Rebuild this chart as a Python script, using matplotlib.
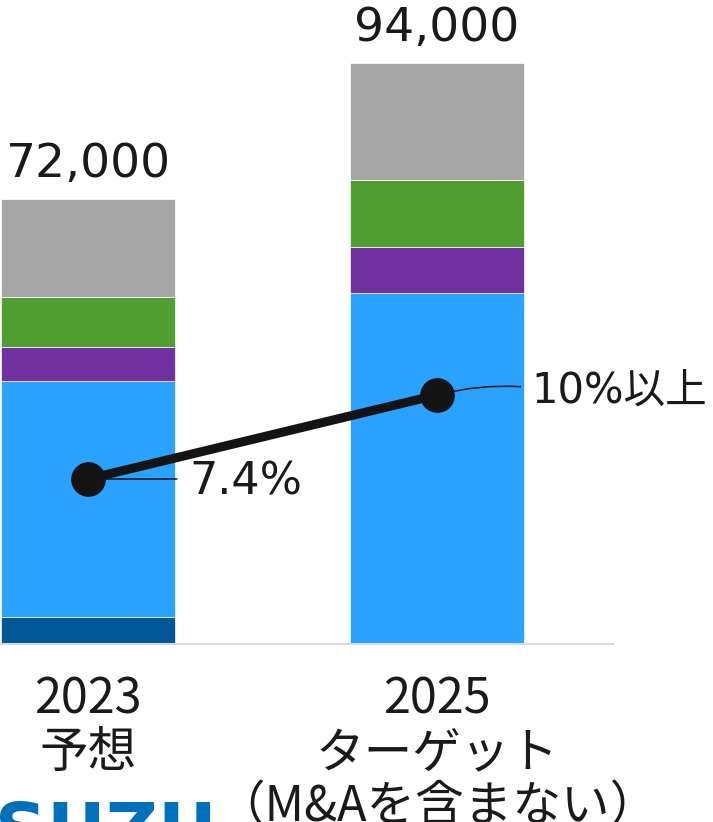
import numpy as np
import matplotlib
matplotlib.use('Agg')
from matplotlib import pyplot as plt

plt.rcParams['font.family'] = ['DejaVu Sans', 'Noto Sans CJK JP']

# data
categories = ['2023\n予想', '2025\nターゲット\n（M&Aを含まない）']
seg_dark = [4400, 0]
seg_blue = [38200, 56800]
seg_purple = [5500, 7400]
seg_green = [8000, 10800]
seg_gray = [15900, 19000]
totals = ['72,000', '94,000']
margin = [7.4, 10.0]
margin_labels = ['7.4%', '10%以上']

colors = ['#005696', '#29A3FF', '#7030A0', '#509E2F', '#A6A6A6']

fig = plt.figure(figsize=(7.13, 8.22), dpi=100)
ax = fig.add_axes([0, 178 / 822, 613 / 713, 644 / 822])
x = np.arange(len(categories))

bottom = np.zeros(len(categories))
for seg, c in zip([seg_dark, seg_blue, seg_purple, seg_green, seg_gray], colors):
    ax.bar(x, seg, 0.5, bottom=bottom, color=c, edgecolor='white', linewidth=0.5)
    bottom += np.array(seg)

for i, t in enumerate(totals):
    ax.annotate(t, xy=(x[i], bottom[i]), xytext=(0, 16), textcoords='offset points',
                ha='center', va='baseline', fontsize=34, color='#1a1a1a')

ax.set_xlim(-0.252, 1.504)
ax.set_ylim(0, 104200)
ax.set_yticks([])
for s in ['top', 'right', 'left']:
    ax.spines[s].set_visible(False)
ax.spines['bottom'].set_color('#D9D9D9')
ax.spines['bottom'].set_linewidth(1.5)
ax.set_xticks(x)
ax.set_xticklabels(categories, family=['Noto Sans CJK JP'], fontsize=35,
                   color='#1a1a1a', linespacing=1.12)
ax.tick_params(axis='x', length=0, pad=22)

# operating margin line
ax2 = ax.twinx()
ax2.set_ylim(2.293, 22.225)
ax2.set_yticks([])
for s in ax2.spines.values():
    s.set_visible(False)
ax2.plot(x, margin, color='#141414', lw=6.5, marker='o', markersize=24, zorder=5)

# leader lines + labels
ax2.annotate('', xy=(x[0], margin[0]), xytext=(64, 0), textcoords='offset points',
             arrowprops=dict(arrowstyle='-', color='#141414', lw=1.1, shrinkA=0, shrinkB=0))
ax2.annotate(margin_labels[0], xy=(x[0], margin[0]), xytext=(73, -11.5),
             textcoords='offset points', ha='left', va='baseline', fontsize=32, color='#1a1a1a')
ax2.annotate('', xy=(x[1], margin[1]), xytext=(60, 6), textcoords='offset points',
             arrowprops=dict(arrowstyle='-', color='#141414', lw=1.1, shrinkA=0, shrinkB=0,
                             connectionstyle='arc3,rad=0.08'))
ax2.annotate(margin_labels[1], xy=(x[1], margin[1]), xytext=(68, -5.8),
             textcoords='offset points', ha='left', va='baseline', fontsize=30, color='#1a1a1a')

# cut-off logo at bottom edge
fig.text(-0.045, -0.057, 'ISUZU', fontsize=52, fontweight='bold', color='#0070BA',
         ha='left', va='bottom')

fig.savefig('out.png', dpi=100)
